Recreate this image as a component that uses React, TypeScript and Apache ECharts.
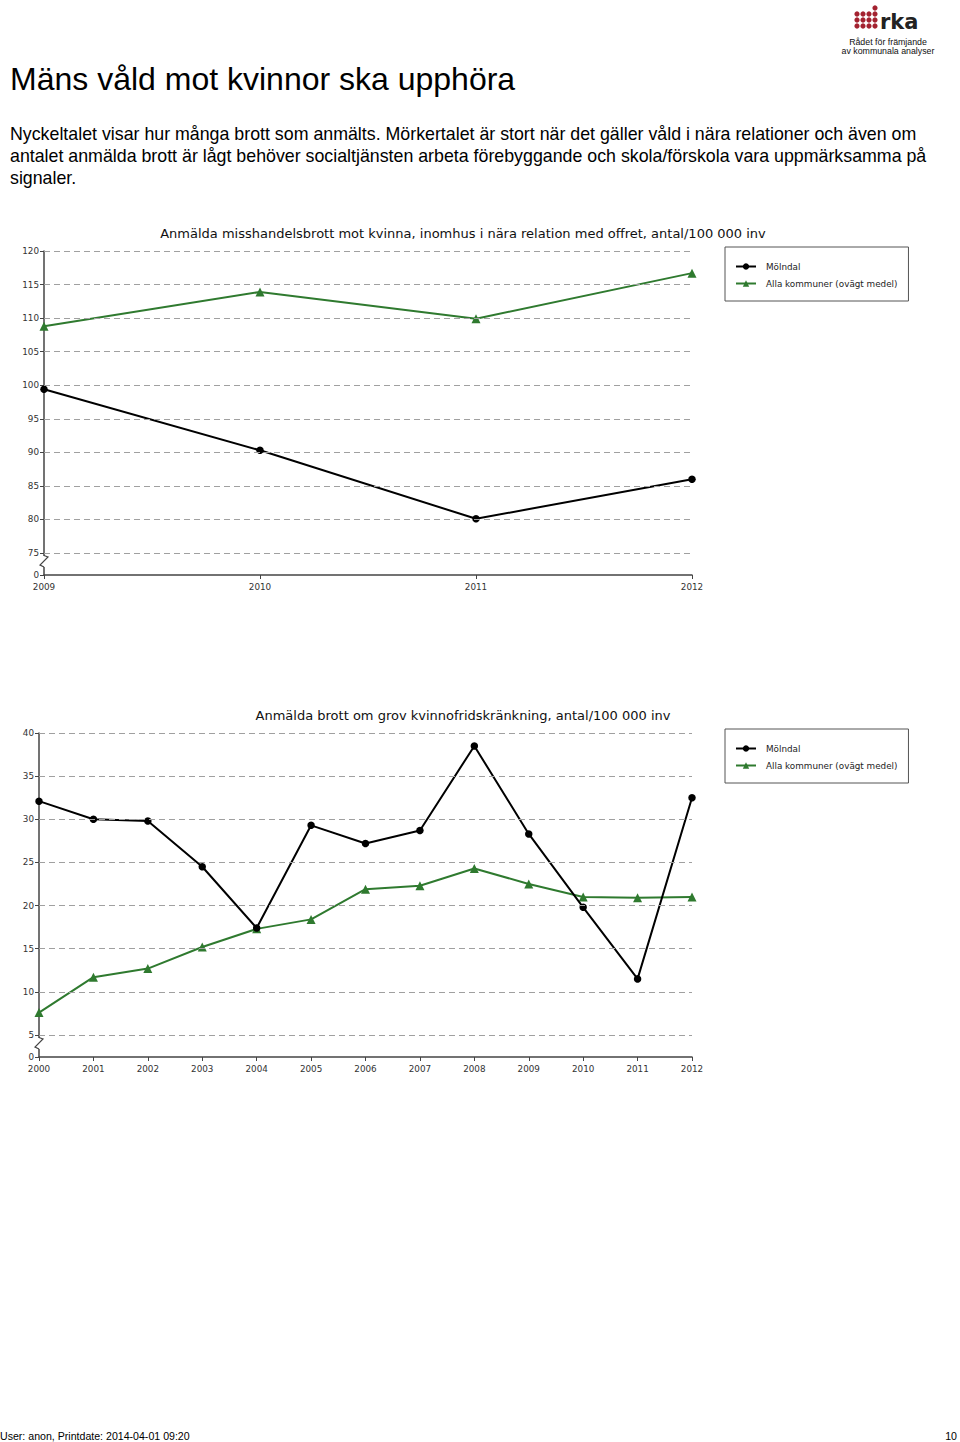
import React, { useEffect, useRef } from "react";
import * as echarts from "echarts";

// ---------- texts ----------
const pageTitle = "Mäns våld mot kvinnor ska upphöra";
const introLines = [
  "Nyckeltalet visar hur många brott som anmälts. Mörkertalet är stort när det gäller våld i nära relationer och även om",
  "antalet anmälda brott är lågt behöver socialtjänsten arbeta förebyggande och skola/förskola vara uppmärksamma på",
  "signaler.",
];
const footerLeft = "User: anon, Printdate: 2014-04-01 09:20";
const footerRight = "10";
const logoWord = "rka";
const logoLine1 = "Rådet för främjande";
const logoLine2 = "av kommunala analyser";

const seriesNames = ["Mölndal", "Alla kommuner (ovägt medel)"];

// ---------- chart 1 ----------
const chart1Title =
  "Anmälda misshandelsbrott mot kvinna, inomhus i nära relation med offret, antal/100 000 inv";
const chart1Years = ["2009", "2010", "2011", "2012"];
const chart1Molndal = [99.4, 90.3, 80.1, 86.0];
const chart1Alla = [108.8, 113.9, 109.9, 116.7];
const chart1Ticks = [75, 80, 85, 90, 95, 100, 105, 110, 115, 120];
const chart1AxisMin = 71.72;

// ---------- chart 2 ----------
const chart2Title = "Anmälda brott om grov kvinnofridskränkning, antal/100 000 inv";
const chart2Years = [
  "2000", "2001", "2002", "2003", "2004", "2005", "2006",
  "2007", "2008", "2009", "2010", "2011", "2012",
];
const chart2Molndal = [32.1, 30.0, 29.8, 24.5, 17.4, 29.3, 27.2, 28.7, 38.5, 28.3, 19.8, 11.5, 32.5];
const chart2Alla = [7.6, 11.7, 12.7, 15.2, 17.3, 18.4, 21.9, 22.3, 24.3, 22.5, 21.0, 20.9, 21.0];
const chart2Ticks = [5, 10, 15, 20, 25, 30, 35, 40];
const chart2AxisMin = 2.45;

// ---------- styles ----------
const FONT = "'DejaVu Sans', Verdana, sans-serif";
const PAGE_FONT = "'Liberation Sans', Arial, sans-serif";
const GREEN = "#2f7a2f";
const AXIS = "#444";
const GRIDS = [
  { left: 44, top: 251, width: 648, height: 324, legendTop: 247, titleY: 233 },
  { left: 39, top: 733, width: 653, height: 324, legendTop: 729, titleY: 715 },
];

function yAxisCfg(gridIndex: number, min: number, ticks: number[]) {
  const values = [min, ...ticks];
  return {
    type: "value",
    gridIndex,
    min,
    max: ticks[ticks.length - 1],
    splitLine: { show: false },
    axisLine: { show: true, lineStyle: { color: AXIS, width: 1.5 } },
    axisTick: { show: true, length: 4, customValues: values, lineStyle: { color: AXIS } },
    axisLabel: {
      customValues: values,
      formatter: (v: number) => (v < ticks[0] ? "0" : String(v)),
      fontSize: 8.8,
      color: "#333",
      fontFamily: FONT,
      margin: 5,
    },
  };
}

function xAxisCfg(gridIndex: number, data: string[]) {
  return {
    type: "category",
    gridIndex,
    data,
    boundaryGap: false,
    axisLine: { onZero: false, lineStyle: { color: AXIS, width: 1.5 } },
    axisTick: { length: 4, lineStyle: { color: AXIS } },
    axisLabel: { interval: 0, fontSize: 8.8, color: "#333", fontFamily: FONT, margin: 7 },
    splitLine: { show: false },
  };
}

function gridLineSeries(idx: number, ticks: number[]) {
  return {
    type: "line",
    xAxisIndex: idx,
    yAxisIndex: idx,
    data: [],
    silent: true,
    z: 1,
    markLine: {
      silent: true,
      symbol: ["none", "none"],
      label: { show: false },
      lineStyle: { type: [6, 4], color: "#a0a0a0", width: 1 },
      data: ticks.map((v) => ({ yAxis: v })),
    },
  };
}

function dataSeries(idx: number, molndal: number[], alla: number[]) {
  return [
    {
      type: "line",
      name: seriesNames[1],
      xAxisIndex: idx,
      yAxisIndex: idx,
      data: alla,
      symbol: "triangle",
      symbolSize: 9,
      itemStyle: { color: GREEN },
      lineStyle: { color: GREEN, width: 2 },
      z: 3,
    },
    {
      type: "line",
      name: seriesNames[0],
      xAxisIndex: idx,
      yAxisIndex: idx,
      data: molndal,
      symbol: "circle",
      symbolSize: 7.5,
      itemStyle: { color: "#000" },
      lineStyle: { color: "#000", width: 2 },
      z: 4,
    },
  ];
}

function zigzag(ax: number, yLow: number) {
  return [
    { type: "rect", z: 100, shape: { x: ax - 3, y: yLow + 3, width: 6, height: 11 }, style: { fill: "#fff" } },
    {
      type: "polyline",
      z: 101,
      shape: { points: [[ax, yLow + 2.5], [ax + 4, yLow + 4], [ax - 4, yLow + 12], [ax, yLow + 14]] },
      style: { stroke: AXIS, lineWidth: 1.2, fill: "none" },
    },
  ];
}

function logo() {
  const dots: any[] = [];
  const cols = [857, 863, 869, 875];
  const rows = [8, 14, 20, 26];
  // column heights (number of dots from bottom)
  const heights = [3, 3, 3, 4];
  cols.forEach((cx, ci) => {
    rows.forEach((cy, ri) => {
      if (ri >= rows.length - heights[ci]) {
        dots.push({ type: "circle", shape: { cx, cy, r: 2.6 }, style: { fill: "#a3212f" } });
      }
    });
  });
  return [
    ...dots,
    {
      type: "text",
      x: 880,
      y: 22,
      style: { text: logoWord, fontSize: 21, fontWeight: "bold", fontFamily: FONT, fill: "#222", textVerticalAlign: "middle" },
    },
    {
      type: "text",
      x: 888,
      y: 42,
      style: { text: logoLine1, fontSize: 8.8, fontFamily: PAGE_FONT, fill: "#111", textAlign: "center", textVerticalAlign: "middle" },
    },
    {
      type: "text",
      x: 888,
      y: 51,
      style: { text: logoLine2, fontSize: 8.8, fontFamily: PAGE_FONT, fill: "#111", textAlign: "center", textVerticalAlign: "middle" },
    },
  ];
}

export default function App() {
  const ref = useRef<HTMLDivElement>(null);

  useEffect(() => {
    if (!ref.current) return;
    const chart = echarts.init(ref.current, undefined, { renderer: "svg" });

    const titles = [chart1Title, chart2Title];
    const mins = [chart1AxisMin, chart2AxisMin];
    const ticks = [chart1Ticks, chart2Ticks];

    const graphicEls: any[] = [
      {
        type: "text",
        x: 10,
        y: 79,
        style: { text: pageTitle, fontSize: 32, fontFamily: PAGE_FONT, fill: "#000", textVerticalAlign: "middle" },
      },
      ...introLines.map((t, i) => ({
        type: "text",
        x: 10,
        y: 134 + i * 22,
        style: { text: t, fontSize: 17.8, fontFamily: PAGE_FONT, fill: "#000", textVerticalAlign: "middle" },
      })),
      ...GRIDS.map((g, i) => ({
        type: "text",
        x: 463,
        y: g.titleY,
        style: { text: titles[i], fontSize: 13, fontFamily: FONT, fill: "#111", textAlign: "center", textVerticalAlign: "middle" },
      })),
      ...GRIDS.flatMap((g) => zigzag(g.left, g.top + g.height - 22)),
      ...logo(),
      {
        type: "text",
        x: 0,
        y: 1436,
        style: { text: footerLeft, fontSize: 10.6, fontFamily: "'Liberation Sans Narrow', " + PAGE_FONT, fill: "#000", textVerticalAlign: "middle" },
      },
      {
        type: "text",
        x: 957,
        y: 1436,
        style: { text: footerRight, fontSize: 10.6, fontFamily: "'Liberation Sans Narrow', " + PAGE_FONT, fill: "#000", textAlign: "right", textVerticalAlign: "middle" },
      },
    ];

    chart.setOption({
      animation: false,
      backgroundColor: "#fff",
      grid: GRIDS.map((g) => ({ left: g.left, top: g.top, width: g.width, height: g.height, containLabel: false })),
      xAxis: [xAxisCfg(0, chart1Years), xAxisCfg(1, chart2Years)],
      yAxis: [0, 1].map((i) => yAxisCfg(i, mins[i], ticks[i])),
      legend: GRIDS.map((g) => ({
        left: 725,
        top: g.legendTop,
        orient: "vertical",
        data: seriesNames,
        selectedMode: false,
        borderColor: "#555",
        borderWidth: 1,
        padding: [15, 11, 13, 10],
        itemWidth: 20,
        itemHeight: 8,
        itemGap: 8,
        textStyle: { fontSize: 8.8, color: "#222", fontFamily: FONT, padding: [0, 0, 0, 5] },
      })),
      series: [
        gridLineSeries(0, chart1Ticks),
        ...dataSeries(0, chart1Molndal, chart1Alla),
        gridLineSeries(1, chart2Ticks),
        ...dataSeries(1, chart2Molndal, chart2Alla),
      ],
      graphic: { elements: graphicEls },
    });

    return () => chart.dispose();
  }, []);

  return (
    <div
      ref={ref}
      style={{ position: "absolute", left: 0, top: 0, width: 960, height: 1442, background: "#fff" }}
    />
  );
}
